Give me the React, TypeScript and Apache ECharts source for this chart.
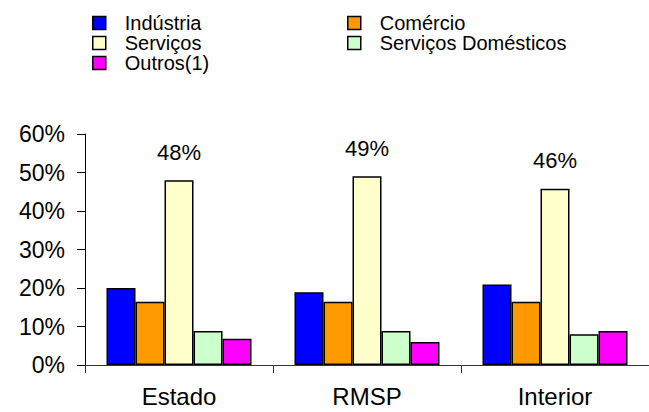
import React, { useEffect, useRef } from "react";
import * as echarts from "echarts";

const categories = ["Estado", "RMSP", "Interior"];
const seriesNames = ["Indústria", "Comércio", "Serviços", "Serviços Domésticos", "Outros(1)"];
const industria = [20, 18.9, 20.9];
const comercio = [16.4, 16.4, 16.4];
const servicos = [48, 49, 45.8];
const domesticos = [8.8, 8.8, 8.0];
const outros = [6.8, 6.0, 8.8];
const yTicks = [0, 10, 20, 30, 40, 50, 60];
const colors = ["#0000FF", "#FF9900", "#FFFFCC", "#CCFFCC", "#FF00FF"];

const FONT = "Liberation Sans, Arial, sans-serif";

export default function App() {
  const ref = useRef<HTMLDivElement>(null);
  useEffect(() => {
    if (!ref.current) return;
    const chart = echarts.init(ref.current, undefined, { renderer: "svg" });
    const values = [industria, comercio, servicos, domesticos, outros];
    const legendCommon = {
      orient: "vertical" as const,
      itemWidth: 13,
      itemHeight: 13,
      itemGap: 0,
      icon: "rect",
      textStyle: { fontFamily: FONT, fontSize: 20, color: "#000", lineHeight: 20, padding: [0, 0, 0, 14] },
      itemStyle: { borderColor: "#000", borderWidth: 1.5 },
    };
    chart.setOption({
      animation: false,
      textStyle: { fontFamily: FONT },
      legend: [
        { ...legendCommon, left: 87, top: 8, data: [seriesNames[0], seriesNames[2], seriesNames[4]] },
        { ...legendCommon, left: 342, top: 8, data: [seriesNames[1], seriesNames[3]] },
      ],
      grid: { left: 85, right: -6, top: 134, bottom: 47, containLabel: false },
      xAxis: {
        type: "category",
        data: categories,
        axisLine: { lineStyle: { color: "#333", width: 1 } },
        axisTick: { show: true, length: 8, lineStyle: { color: "#333" } },
        axisLabel: { fontFamily: FONT, fontSize: 24, color: "#000", margin: 19 },
      },
      yAxis: {
        type: "value",
        min: yTicks[0],
        max: yTicks[yTicks.length - 1],
        interval: 10,
        splitLine: { show: false },
        axisLine: { show: true, lineStyle: { color: "#000", width: 1 } },
        axisTick: { show: true, length: 8, lineStyle: { color: "#000" } },
        axisLabel: { fontFamily: FONT, fontSize: 23, color: "#000", margin: 20, formatter: "{value}%" },
      },
      series: seriesNames.map((name, i) => ({
        name,
        type: "bar",
        data: values[i],
        barWidth: 29,
        barGap: "0%",
        itemStyle: { color: colors[i], borderColor: "#000", borderWidth: 1.5 },
        label:
          i === 2
            ? {
                show: true,
                position: "top",
                distance: 17,
                fontFamily: FONT,
                fontSize: 22,
                color: "#000",
                formatter: (p: any) => `${Math.round(p.value)}%`,
              }
            : { show: false },
      })),
    });
    return () => chart.dispose();
  }, []);
  return <div ref={ref} style={{ position: "fixed", left: 0, top: 0, width: 649, height: 412, background: "#fff" }} />;
}
